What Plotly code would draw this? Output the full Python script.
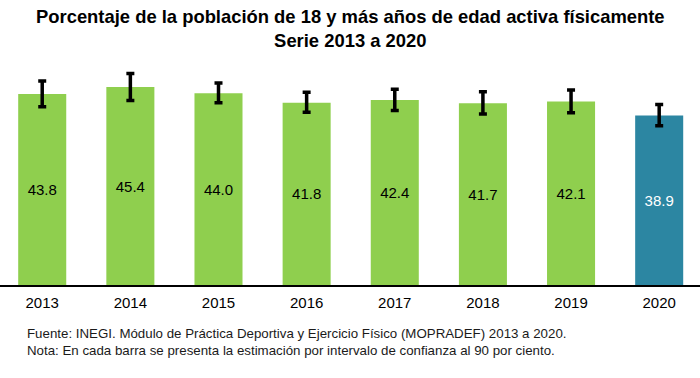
import plotly.graph_objects as go

years = ["2013", "2014", "2015", "2016", "2017", "2018", "2019", "2020"]
values = [43.8, 45.4, 44.0, 41.8, 42.4, 41.7, 42.1, 38.9]
err_plus = [3.0, 3.1, 2.3, 2.4, 2.5, 2.6, 2.6, 2.5]
err_minus = [2.9, 3.1, 2.2, 2.2, 2.4, 2.5, 2.6, 2.4]
bar_colors = ["#8FCF4E"] * 7 + ["#2C86A2"]
text_colors = ["#000000"] * 7 + ["#FFFFFF"]

title_text = ("<b>Porcentaje de la población de 18 y más años de edad activa físicamente"
              "<br>Serie 2013 a 2020</b>")
note_text = ("Fuente: INEGI. Módulo de Práctica Deportiva y Ejercicio Físico (MOPRADEF) 2013 a 2020."
             "<br>Nota: En cada barra se presenta la estimación por intervalo de confianza al 90 por ciento.")

FONT = "Liberation Sans, Arial, sans-serif"

fig = go.Figure()
fig.add_trace(go.Bar(
    x=years, y=values,
    marker=dict(color=bar_colors, line=dict(width=0)),
    text=[f"{v:.1f}" for v in values],
    textposition="inside",
    insidetextanchor="middle",
    textfont=dict(family=FONT, size=15, color=text_colors),
    error_y=dict(type="data", symmetric=False, array=err_plus, arrayminus=err_minus,
                 color="#000000", thickness=3.5, width=4),
    hoverinfo="skip",
))

fig.update_layout(
    width=700, height=378,
    margin=dict(l=0, r=0, t=60, b=93, autoexpand=False),
    paper_bgcolor="white", plot_bgcolor="white",
    showlegend=False,
    bargap=0.455,
    font=dict(family=FONT, color="#000000"),
    xaxis=dict(
        type="category",
        range=[-0.479, 7.463],
        automargin=False,
        showline=True, linecolor="#000000", linewidth=1.5,
        ticks="", showgrid=False, zeroline=False,
        tickfont=dict(family=FONT, size=15, color="#000000"),
        ticklabelstandoff=3,
    ),
    yaxis=dict(
        range=[0, 51.6],
        visible=False, showgrid=False, zeroline=False,
    ),
    annotations=[
        dict(text=title_text, xref="paper", yref="paper", x=0.5, y=1,
             xanchor="center", yanchor="bottom", yshift=7, showarrow=False,
             align="center",
             font=dict(family=FONT, size=18.4, color="#000000")),
        dict(text=note_text, xref="paper", yref="paper", x=25/700, y=0,
             xanchor="left", yanchor="top", yshift=-39, showarrow=False,
             align="left",
             font=dict(family=FONT, size=13.3, color="#1A1A1A")),
    ],
)

fig.write_html(
    "out.html",
    config={"displayModeBar": False},
    post_script="document.body.style.margin='0';document.body.style.overflow='hidden';",
)
